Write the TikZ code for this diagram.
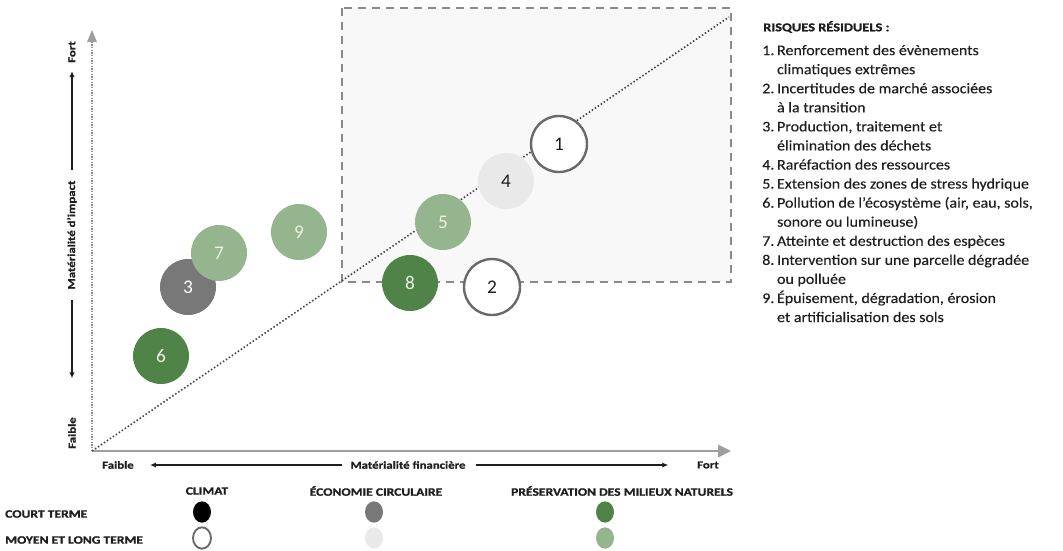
\documentclass[tikz,border=0pt]{standalone}
\usepackage{fontspec}
\setmainfont{Carlito}
\newfontfamily\lblfont{Carlito}[FakeStretch=1.2, FakeBold=1]
\newfontfamily\listfont{Carlito}[FakeStretch=1.09, FakeBold=0.25]
\usetikzlibrary{arrows.meta,shapes.geometric}

\definecolor{gDark}{RGB}{80,131,72}
\definecolor{gLight}{RGB}{148,181,141}
\definecolor{grDark}{RGB}{120,120,120}
\definecolor{grLight}{RGB}{233,233,233}
\definecolor{ringGray}{RGB}{105,105,105}
\definecolor{axisGray}{RGB}{158,158,158}
\definecolor{boxFill}{RGB}{248,248,248}
\definecolor{boxLine}{RGB}{138,138,138}
\definecolor{numLight}{RGB}{236,240,226}
\definecolor{txt}{RGB}{30,30,30}

\tikzset{
  bubble/.style={circle, minimum size=42pt, inner sep=0pt,
    font=\fontsize{14.5}{14.5}\selectfont},
  ringed/.style={bubble, fill=white, draw=ringGray, line width=1.8pt, text=txt},
  dotmark/.style={ellipse, minimum width=13.5pt, minimum height=16pt, inner sep=0pt},
  axislab/.style={font=\lblfont\bfseries\fontsize{8}{8}\selectfont, text=txt, inner sep=1pt},
  leglab/.style={font=\lblfont\bfseries\fontsize{8.5}{8.5}\selectfont, text=txt, inner sep=0pt},
  labarrow/.style={draw=txt, line width=1pt, -{Latex[length=4.5pt,width=4pt]}},
}

\begin{document}
\begin{tikzpicture}[x=0.75pt,y=-0.75pt]
\useasboundingbox (0,0) rectangle (1063,550);

% zone of high materiality
\draw[draw=boxLine, fill=boxFill, line width=1.9pt, dash pattern=on 6pt off 4.5pt]
  (342,8) rectangle (731,282);

% axes
\coordinate (O) at (92,451);
\coordinate (ytop) at (92,30);
\coordinate (xend) at (731,451);
\coordinate (diagEnd) at (729,17);
\draw[axisGray!90!black, line width=1.3pt, dash pattern=on 1pt off 1pt] (O) -- ([yshift=-9pt]ytop);
\fill[axisGray] (ytop) -- ++(-5,12) -- ++(10,0) -- cycle;
\draw[axisGray, line width=2.2pt] (O) -- ([xshift=-9pt]xend);
\fill[axisGray] (xend) -- ++(-13,-6.5) -- ++(0,13) -- cycle;
\draw[black!75, line width=1.2pt, dash pattern=on 1.1pt off 1.6pt] (O) -- (diagEnd);

% bubbles
\node[bubble, fill=gDark, text=numLight] (r8) at (410,283) {8};
\node[ringed] (r2) at (492,287) {2};
\node[bubble, fill=gLight, text=numLight] (r5) at (443,222) {5};
\node[bubble, fill=grLight, text=txt] (r4) at (506,181) {4};
\node[ringed] (r1) at (559,144) {1};
\node[bubble, fill=gLight, text=numLight] (r9) at (299,232) {9};
\node[bubble, fill=grDark, text=white] (r3) at (188,287) {3};
\node[bubble, fill=gLight, text=numLight] (r7) at (219,253) {7};
\node[bubble, fill=gDark, text=numLight] (r6) at (161,356) {6};

% vertical axis labels
\node[axislab, rotate=90] (yfort) at (72,52) {Fort};
\node[axislab, rotate=90] (ymat) at (72,235) {Matérialité d’impact};
\node[axislab, rotate=90] (yfaible) at (72,433) {Faible};
\draw[labarrow, shorten <=7pt, shorten >=5pt] (ymat.east) -- (yfort.west);
\draw[labarrow, shorten <=7pt, shorten >=28pt] (ymat.west) -- (yfaible.east);

% horizontal axis labels
\node[axislab] (xfaible) at (118,465) {Faible};
\node[axislab] (xmat) at (408,465) {Matérialité financière};
\node[axislab] (xfort) at (708,465) {Fort};
\draw[labarrow, shorten <=5pt, shorten >=11pt] (xmat.west) -- (xfaible.east);
\draw[labarrow, shorten <=7pt, shorten >=20.5pt] (xmat.east) -- (xfort.west);

% legend of themes and horizons
\node[leglab] (lclim) at (207,491) {CLIMAT};
\node[leglab] (leco) at (376,491) {ÉCONOMIE CIRCULAIRE};
\node[leglab] (lpres) at (622,491) {PRÉSERVATION DES MILIEUX NATURELS};
\node[leglab, anchor=west] (lcourt) at (5,514) {COURT TERME};
\node[leglab, anchor=west] (lmoyen) at (5,540) {MOYEN ET LONG TERME};
\node[dotmark, fill=black] (dclimC) at (202,512) {};
\node[dotmark, fill=white, draw=ringGray, line width=1.4pt] (dclimM) at (202,538) {};
\node[dotmark, fill=grDark] (decoC) at (374,512) {};
\node[dotmark, fill=grLight] (decoM) at (374,538) {};
\node[dotmark, fill=gDark] (dpresC) at (605,512) {};
\node[dotmark, fill=gLight] (dpresM) at (605,538) {};

% list of residual risks
\node[anchor=west, font=\lblfont\bfseries\fontsize{9}{9}\selectfont, text=txt, inner sep=0pt]
  (rtitle) at (763,27) {RISQUES RÉSIDUELS :};
\node[anchor=north west, inner sep=0pt, text=txt,
      font=\listfont\fontsize{11}{14.3}\selectfont] (rlist) at (762,41.5) {%
  \begin{tabular}{@{}r@{\hspace{2pt}}l@{}}
  1. & Renforcement des évènements\\
     & climatiques extrêmes\\
  2. & Incertitudes de marché associées\\
     & à la transition\\
  3. & Production, traitement et\\
     & élimination des déchets\\
  4. & Raréfaction des ressources\\
  5. & Extension des zones de stress hydrique\\
  6. & Pollution de l’écosystème (air, eau, sols,\\
     & sonore ou lumineuse)\\
  7. & Atteinte et destruction des espèces\\
  8. & Intervention sur une parcelle dégradée\\
     & ou polluée\\
  9. & Épuisement, dégradation, érosion\\
     & et artificialisation des sols
  \end{tabular}};
\end{tikzpicture}
\end{document}
